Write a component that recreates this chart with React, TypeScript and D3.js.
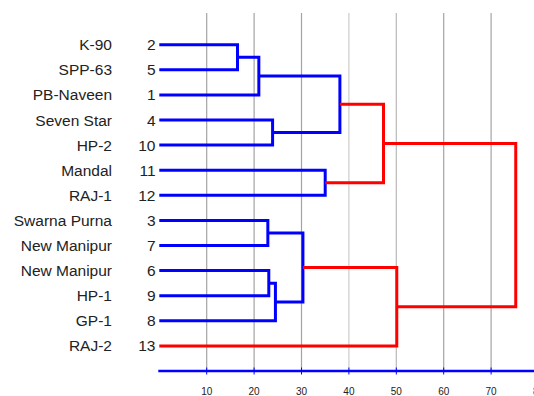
import React from 'react';
import * as d3 from 'd3';

// leaf order, top to bottom
const names = ['K-90', 'SPP-63', 'PB-Naveen', 'Seven Star', 'HP-2', 'Mandal', 'RAJ-1', 'Swarna Purna', 'New Manipur', 'New Manipur', 'HP-1', 'GP-1', 'RAJ-2'];
const ids = [2, 5, 1, 4, 10, 11, 12, 3, 7, 6, 9, 8, 13];

// merges: [left, right, height]; leaves referenced by id, clusters by 'c' + index
const mergeLeft = [2, 'c0', 4, 'c1', 11, 'c3', 3, 6, 'c7', 'c6', 'c9', 'c5'];
const mergeRight = [5, 1, 10, 'c2', 12, 'c4', 7, 9, 8, 'c8', 13, 'c10'];
const mergeHeight = [16.5, 21.0, 23.9, 38.1, 35.0, 47.3, 22.9, 23.1, 24.5, 30.3, 50.1, 75.2];

const ticks = [10, 20, 30, 40, 50, 60, 70, 80];
const cutOff = 40;

const W = 534;
const H = 396;

const App = () => {
  const x = d3.scaleLinear().domain([0, 80]).range([159.3, 538.5]);
  const y = d3.scaleLinear().domain([0, 13]).range([44.7, 44.7 + 13 * 25.1]);
  const axisY = y(13);

  const pos: Record<string, { x: number; y: number }> = {};
  ids.forEach((id, i) => {
    pos[String(id)] = { x: x(0), y: y(i) };
  });

  const links = mergeHeight.map((h, i) => {
    const a = pos[String(mergeLeft[i])];
    const b = pos[String(mergeRight[i])];
    const px = x(h);
    pos['c' + i] = { x: px, y: (a.y + b.y) / 2 };
    const p = d3.path();
    p.moveTo(a.x, a.y);
    p.lineTo(px, a.y);
    p.lineTo(px, b.y);
    p.lineTo(b.x, b.y);
    return { d: p.toString(), color: h > cutOff ? '#ff0000' : '#0000ff' };
  });

  const gridColor = (t: number) => (t === 40 ? '#cccccc' : t === 50 ? '#b8b8b8' : '#a3a3a3');

  return (
    <svg width={W} height={H} style={{ position: 'absolute', left: 0, top: 0, background: '#fff' }}
      fontFamily="Liberation Sans, Arial, sans-serif">
      {ticks.map((t) => (
        <line key={'g' + t} x1={x(t)} x2={x(t)} y1={13} y2={axisY} stroke={gridColor(t)} strokeWidth={1.2} />
      ))}
      {links.map((l, i) => (
        <path key={i} d={l.d} fill="none" stroke={l.color} strokeWidth={3} />
      ))}
      <line x1={x(0) - 1} x2={W} y1={axisY} y2={axisY} stroke="#0000ff" strokeWidth={2.5} />
      {ticks.map((t) => (
        <g key={'t' + t}>
          <line x1={x(t)} x2={x(t)} y1={axisY - 3.5} y2={axisY + 3.5} stroke="#0000ff" strokeWidth={1} />
          <text x={x(t)} y={394.5} fontSize={10} textAnchor="middle" fill="#222">{t}</text>
        </g>
      ))}
      {names.map((n, i) => (
        <g key={'l' + i}>
          <text x={112} y={y(i)} dy="0.36em" fontSize={15.5} textAnchor="end" fill="#222">{n}</text>
          <text x={155.5} y={y(i)} dy="0.36em" fontSize={15.5} textAnchor="end" fill="#222">{ids[i]}</text>
        </g>
      ))}
    </svg>
  );
};

export default App;
